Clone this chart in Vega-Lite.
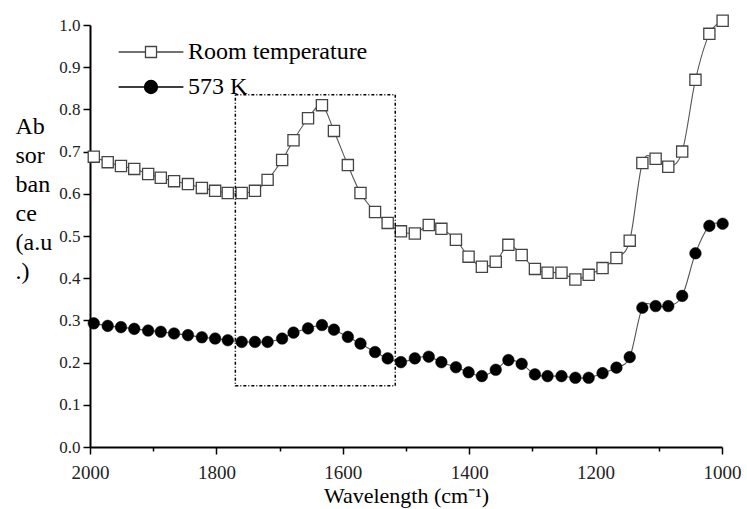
{
  "$schema": "https://vega.github.io/schema/vega-lite/v6.json",
  "width": 632,
  "height": 422,
  "autosize": {"type": "none"},
  "padding": {"left": 90, "top": 25, "right": 25, "bottom": 62},
  "background": "white",
  "config": {
    "view": {"stroke": null},
    "font": "Liberation Serif",
    "axis": {"labelFont": "Liberation Serif", "titleFont": "Liberation Serif", "titleFontWeight": "normal"},
    "legend": {"labelFont": "Liberation Serif", "titleFont": "Liberation Serif"}
  },
  "datasets": {
    "spectra": [
      {"w": 1994, "series": "Room temperature", "a": 0.688},
      {"w": 1972, "series": "Room temperature", "a": 0.675},
      {"w": 1951, "series": "Room temperature", "a": 0.666},
      {"w": 1930, "series": "Room temperature", "a": 0.659},
      {"w": 1908, "series": "Room temperature", "a": 0.647},
      {"w": 1888, "series": "Room temperature", "a": 0.638},
      {"w": 1867, "series": "Room temperature", "a": 0.630},
      {"w": 1845, "series": "Room temperature", "a": 0.623},
      {"w": 1823, "series": "Room temperature", "a": 0.614},
      {"w": 1802, "series": "Room temperature", "a": 0.607},
      {"w": 1782, "series": "Room temperature", "a": 0.602},
      {"w": 1760, "series": "Room temperature", "a": 0.602},
      {"w": 1739, "series": "Room temperature", "a": 0.607},
      {"w": 1719, "series": "Room temperature", "a": 0.633},
      {"w": 1696, "series": "Room temperature", "a": 0.680},
      {"w": 1678, "series": "Room temperature", "a": 0.727},
      {"w": 1655, "series": "Room temperature", "a": 0.779},
      {"w": 1633, "series": "Room temperature", "a": 0.810},
      {"w": 1614, "series": "Room temperature", "a": 0.749},
      {"w": 1592, "series": "Room temperature", "a": 0.668},
      {"w": 1572, "series": "Room temperature", "a": 0.602},
      {"w": 1549, "series": "Room temperature", "a": 0.557},
      {"w": 1529, "series": "Room temperature", "a": 0.531},
      {"w": 1508, "series": "Room temperature", "a": 0.511},
      {"w": 1486, "series": "Room temperature", "a": 0.506},
      {"w": 1464, "series": "Room temperature", "a": 0.526},
      {"w": 1444, "series": "Room temperature", "a": 0.517},
      {"w": 1421, "series": "Room temperature", "a": 0.491},
      {"w": 1401, "series": "Room temperature", "a": 0.451},
      {"w": 1380, "series": "Room temperature", "a": 0.427},
      {"w": 1358, "series": "Room temperature", "a": 0.439},
      {"w": 1338, "series": "Room temperature", "a": 0.479},
      {"w": 1317, "series": "Room temperature", "a": 0.455},
      {"w": 1296, "series": "Room temperature", "a": 0.422},
      {"w": 1276, "series": "Room temperature", "a": 0.413},
      {"w": 1254, "series": "Room temperature", "a": 0.413},
      {"w": 1232, "series": "Room temperature", "a": 0.397},
      {"w": 1211, "series": "Room temperature", "a": 0.408},
      {"w": 1189, "series": "Room temperature", "a": 0.424},
      {"w": 1167, "series": "Room temperature", "a": 0.448},
      {"w": 1146, "series": "Room temperature", "a": 0.489},
      {"w": 1126, "series": "Room temperature", "a": 0.673},
      {"w": 1105, "series": "Room temperature", "a": 0.683},
      {"w": 1085, "series": "Room temperature", "a": 0.664},
      {"w": 1063, "series": "Room temperature", "a": 0.700},
      {"w": 1042, "series": "Room temperature", "a": 0.870},
      {"w": 1020, "series": "Room temperature", "a": 0.979},
      {"w": 999, "series": "Room temperature", "a": 1.010},
      {"w": 1994, "series": "573 K", "a": 0.293},
      {"w": 1972, "series": "573 K", "a": 0.287},
      {"w": 1951, "series": "573 K", "a": 0.284},
      {"w": 1930, "series": "573 K", "a": 0.280},
      {"w": 1908, "series": "573 K", "a": 0.276},
      {"w": 1888, "series": "573 K", "a": 0.273},
      {"w": 1867, "series": "573 K", "a": 0.269},
      {"w": 1845, "series": "573 K", "a": 0.265},
      {"w": 1823, "series": "573 K", "a": 0.260},
      {"w": 1802, "series": "573 K", "a": 0.257},
      {"w": 1782, "series": "573 K", "a": 0.253},
      {"w": 1760, "series": "573 K", "a": 0.249},
      {"w": 1739, "series": "573 K", "a": 0.249},
      {"w": 1719, "series": "573 K", "a": 0.249},
      {"w": 1696, "series": "573 K", "a": 0.257},
      {"w": 1678, "series": "573 K", "a": 0.271},
      {"w": 1655, "series": "573 K", "a": 0.281},
      {"w": 1633, "series": "573 K", "a": 0.289},
      {"w": 1614, "series": "573 K", "a": 0.278},
      {"w": 1592, "series": "573 K", "a": 0.261},
      {"w": 1572, "series": "573 K", "a": 0.245},
      {"w": 1549, "series": "573 K", "a": 0.225},
      {"w": 1529, "series": "573 K", "a": 0.210},
      {"w": 1508, "series": "573 K", "a": 0.201},
      {"w": 1486, "series": "573 K", "a": 0.210},
      {"w": 1464, "series": "573 K", "a": 0.214},
      {"w": 1444, "series": "573 K", "a": 0.201},
      {"w": 1421, "series": "573 K", "a": 0.189},
      {"w": 1401, "series": "573 K", "a": 0.177},
      {"w": 1380, "series": "573 K", "a": 0.168},
      {"w": 1358, "series": "573 K", "a": 0.183},
      {"w": 1338, "series": "573 K", "a": 0.206},
      {"w": 1317, "series": "573 K", "a": 0.197},
      {"w": 1296, "series": "573 K", "a": 0.172},
      {"w": 1276, "series": "573 K", "a": 0.168},
      {"w": 1254, "series": "573 K", "a": 0.168},
      {"w": 1232, "series": "573 K", "a": 0.164},
      {"w": 1211, "series": "573 K", "a": 0.164},
      {"w": 1189, "series": "573 K", "a": 0.175},
      {"w": 1167, "series": "573 K", "a": 0.188},
      {"w": 1146, "series": "573 K", "a": 0.213},
      {"w": 1126, "series": "573 K", "a": 0.330},
      {"w": 1105, "series": "573 K", "a": 0.334},
      {"w": 1085, "series": "573 K", "a": 0.334},
      {"w": 1063, "series": "573 K", "a": 0.358},
      {"w": 1042, "series": "573 K", "a": 0.459},
      {"w": 1020, "series": "573 K", "a": 0.524},
      {"w": 999, "series": "573 K", "a": 0.529}
    ],
    "region": [{"from": 1770, "to": 1517, "low": 0.145, "high": 0.835}]
  },
  "layer": [
    {
      "data": {"name": "spectra"},
      "mark": {"type": "line", "interpolate": "cardinal", "stroke": "#555555", "strokeWidth": 1.1},
      "encoding": {
        "x": {
          "field": "w", "type": "quantitative",
          "scale": {"domain": [1000, 2000], "reverse": true, "nice": false, "zero": false},
          "axis": {
            "title": "Wavelength (cm⁻¹)",
            "values": [1000, 1100, 1200, 1300, 1400, 1500, 1600, 1700, 1800, 1900, 2000],
            "labelExpr": "datum.value % 200 == 0 ? '' + datum.value : ''",
            "tickSize": {"condition": {"test": "datum.value % 200 == 0", "value": 7}, "value": 4},
            "tickColor": "black", "tickWidth": 1.5,
            "domainColor": "black", "domainWidth": 2,
            "grid": false, "labelFlush": false, "labelOverlap": false,
            "labelFont": "Liberation Serif", "labelFontSize": 19, "labelColor": "#222222",
            "labelPadding": 9,
            "titleFont": "Liberation Serif", "titleFontSize": 22, "titleFontWeight": "normal",
            "titleColor": "black", "titleBaseline": "alphabetic", "titleY": 55
          }
        },
        "y": {
          "field": "a", "type": "quantitative",
          "scale": {"domain": [0, 1], "nice": false, "zero": false},
          "axis": {
            "title": ["Ab", "sor", "ban", "ce", "(a.u", ".)"],
            "values": [0, 0.05, 0.1, 0.15, 0.2, 0.25, 0.3, 0.35, 0.4, 0.45, 0.5, 0.55, 0.6, 0.65, 0.7, 0.75, 0.8, 0.85, 0.9, 0.95, 1],
            "labelExpr": "round(datum.value * 20) % 2 == 0 ? format(datum.value, '.1f') : ''",
            "tickSize": {"condition": {"test": "round(datum.value * 20) % 2 == 0", "value": 7}, "value": 4},
            "tickColor": "black", "tickWidth": 1.5,
            "domainColor": "black", "domainWidth": 2,
            "grid": false, "labelOverlap": false,
            "labelFont": "Liberation Serif", "labelFontSize": 17, "labelColor": "#222222",
            "labelPadding": 3,
            "titleFont": "Liberation Serif", "titleFontSize": 24, "titleFontWeight": "normal",
            "titleColor": "black", "titleAngle": 0, "titleAlign": "left", "titleBaseline": "alphabetic",
            "titleX": -75, "titleY": 108, "titleLineHeight": 29
          }
        },
        "detail": {"field": "series"},
        "order": {"field": "w", "sort": "descending"}
      }
    },
    {
      "data": {"name": "spectra"},
      "transform": [{"filter": "datum.series === 'Room temperature'"}],
      "mark": {"type": "point", "shape": "square", "size": 125, "filled": true, "fill": "white", "stroke": "#444444", "strokeWidth": 1.3, "opacity": 1},
      "encoding": {
        "x": {"field": "w", "type": "quantitative"},
        "y": {"field": "a", "type": "quantitative"}
      }
    },
    {
      "data": {"name": "spectra"},
      "transform": [{"filter": "datum.series === '573 K'"}],
      "mark": {"type": "point", "shape": "circle", "size": 135, "filled": true, "fill": "black", "stroke": "black", "strokeWidth": 0.5, "opacity": 1},
      "encoding": {
        "x": {"field": "w", "type": "quantitative"},
        "y": {"field": "a", "type": "quantitative"}
      }
    },
    {
      "description": "Key for the two series: the legend is built from these scales alone, so no rows pass the filter.",
      "data": {"name": "spectra"},
      "transform": [{"filter": "false"}],
      "mark": {"type": "point", "strokeWidth": 1.3},
      "encoding": {
        "x": {"field": "w", "type": "quantitative"},
        "y": {"field": "a", "type": "quantitative"},
        "shape": {
          "field": "series", "type": "nominal",
          "scale": {
            "domain": ["Room temperature", "573 K"],
            "range": [
              "M-5.4,0H-0.92M0.92,0H5.4M-0.92,-0.92H0.92V0.92H-0.92Z",
              "M-5.4,0H5.4M-1.08,0A1.08,1.08 0 1,1 1.08,0A1.08,1.08 0 1,1 -1.08,0Z"
            ]
          },
          "legend": {
            "orient": "none", "legendX": 49, "legendY": 15, "title": null, "padding": 0,
            "symbolSize": 144, "symbolOpacity": 1, "symbolStrokeWidth": 1.3,
            "labelFont": "Liberation Serif", "labelFontSize": 24,
            "labelColor": "black", "labelOffset": 25, "rowPadding": 11, "labelLimit": 400
          }
        },
        "fill": {
          "field": "series", "type": "nominal",
          "scale": {"domain": ["Room temperature", "573 K"], "range": ["white", "black"]}
        },
        "stroke": {
          "field": "series", "type": "nominal",
          "scale": {"domain": ["Room temperature", "573 K"], "range": ["#444444", "black"]}
        }
      }
    },
    {
      "data": {"name": "region"},
      "mark": {"type": "rect", "filled": false, "stroke": "black", "strokeWidth": 1.5, "strokeDash": [3, 2, 1, 2]},
      "encoding": {
        "x": {"field": "from", "type": "quantitative"},
        "x2": {"field": "to"},
        "y": {"field": "low", "type": "quantitative"},
        "y2": {"field": "high"}
      }
    }
  ]
}
